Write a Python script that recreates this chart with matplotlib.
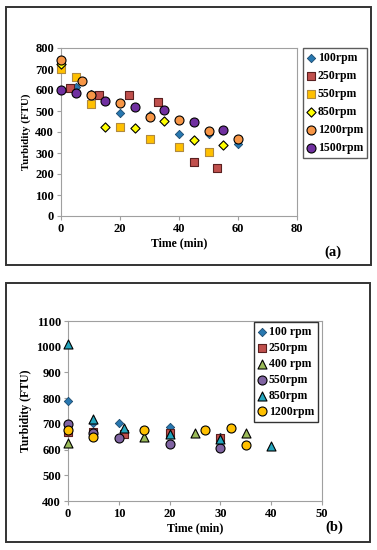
import matplotlib
matplotlib.use("Agg")
import matplotlib.pyplot as plt
from matplotlib.patches import Rectangle

plt.rcParams['font.family'] = ['Liberation Serif', 'DejaVu Serif']
plt.rcParams['font.weight'] = 'bold'

# ---- Panel (a) data ----
a_100_t = [0, 5, 10, 20, 30, 40, 50, 60]
a_100_v = [725, 615, 580, 490, 480, 390, 390, 345]
a_250_t = [3, 13, 23, 33, 45, 53]
a_250_v = [608, 575, 577, 545, 255, 230]
a_550_t = [0, 5, 10, 20, 30, 40, 50]
a_550_v = [700, 660, 533, 422, 368, 330, 305]
a_850_t = [0, 15, 25, 35, 45, 55]
a_850_v = [725, 422, 418, 452, 360, 338]
a_1200_t = [0, 7, 10, 20, 30, 40, 50, 60]
a_1200_v = [742, 642, 575, 538, 470, 458, 405, 365]
a_1500_t = [0, 5, 15, 25, 35, 45, 55]
a_1500_v = [598, 588, 548, 520, 505, 448, 410]
a_labels = ['100rpm', '250rpm', '550rpm', '850rpm', '1200rpm', '1500rpm']
a_xticks = [0, 20, 40, 60, 80]
a_yticks = [0, 100, 200, 300, 400, 500, 600, 700, 800]

# ---- Panel (b) data ----
b_100_t = [0, 5, 10, 20, 30]
b_100_v = [788, 705, 703, 688, 648]
b_250_t = [0, 5, 11, 20, 30]
b_250_v = [670, 668, 662, 665, 645]
b_400_t = [0, 15, 25, 35]
b_400_v = [625, 648, 665, 665]
b_550_t = [0, 5, 10, 20, 30]
b_550_v = [700, 665, 645, 623, 605]
b_850_t = [0, 5, 11, 20, 30, 40]
b_850_v = [1010, 720, 682, 660, 640, 612]
b_1200_t = [0, 5, 15, 27, 32, 35]
b_1200_v = [678, 650, 675, 677, 685, 618]
b_labels = ['100 rpm', '250rpm', '400 rpm', '550rpm', '850rpm', '1200rpm']
b_xticks = [0, 10, 20, 30, 40, 50]
b_yticks = [400, 500, 600, 700, 800, 900, 1000, 1100]

W, H = 377, 550
fig = plt.figure(figsize=(W / 100, H / 100), dpi=100)

def fx(px): return px / W
def fy(py): return 1 - py / H

# panel borders
for (x0, y0, x1, y1) in [(6, 7, 371, 265), (6, 283, 370, 542)]:
    fig.patches.append(Rectangle((fx(x0), fy(y1)), fx(x1) - fx(x0), fy(y0) - fy(y1),
                                 transform=fig.transFigure, fill=False,
                                 edgecolor='#333333', linewidth=1.4))

def style_axes(ax):
    for s in ['left', 'bottom', 'top', 'right']:
        ax.spines[s].set_color('#a0a0a0')
        ax.spines[s].set_linewidth(0.8)
    ax.tick_params(direction='out', length=3, width=0.8, color='#a0a0a0',
                   labelsize=9, pad=2)
    for lab in ax.get_xticklabels() + ax.get_yticklabels():
        lab.set_fontweight('bold')

kw = dict(zorder=3, clip_on=False)

# ---- axes (a) ----
ax1 = fig.add_axes([fx(61), fy(216), fx(297) - fx(61), fy(48) - fy(216)])
ek = 'black'
ax1.scatter(a_100_t, a_100_v, marker='D', s=18, color='#2878b0', edgecolors='#1a4a6e', linewidths=0.6, label=a_labels[0], **kw)
ax1.scatter(a_250_t, a_250_v, marker='s', s=40, color='#c0504d', edgecolors='#5a2020', linewidths=0.8, label=a_labels[1], **kw)
ax1.scatter(a_550_t, a_550_v, marker='s', s=40, color='#ffc000', edgecolors='#b08a40', linewidths=0.8, label=a_labels[2], **kw)
ax1.scatter(a_850_t, a_850_v, marker='D', s=22, color='#ffff00', edgecolors=ek, linewidths=0.8, label=a_labels[3], **kw)
ax1.scatter(a_1200_t, a_1200_v, marker='o', s=42, color='#f79646', edgecolors=ek, linewidths=0.8, label=a_labels[4], **kw)
ax1.scatter(a_1500_t, a_1500_v, marker='o', s=42, color='#7030a0', edgecolors=ek, linewidths=0.8, label=a_labels[5], **kw)
ax1.set_xlim(0, 80)
ax1.set_ylim(0, 800)
ax1.set_xticks(a_xticks)
ax1.set_yticks(a_yticks)
style_axes(ax1)
ax1.set_xlabel('Time (min)', fontsize=8.5, fontweight='bold', labelpad=2)
ax1.set_ylabel('Turbidity (FTU)', fontsize=7.8, fontweight='bold', labelpad=3)
leg1 = ax1.legend(loc='upper left', bbox_to_anchor=(1.025, 1.0), frameon=True, fancybox=False,
                  edgecolor='#333333', fontsize=8.5, handlelength=0.6, handletextpad=0.3,
                  borderpad=0.35, labelspacing=0.5, borderaxespad=0)
leg1.get_frame().set_linewidth(1.0)
for t in leg1.get_texts():
    t.set_fontweight('bold')
fig.text(fx(333), fy(252), '(a)', fontsize=10.5, fontweight='bold', ha='center', va='center')

# ---- axes (b) ----
ax2 = fig.add_axes([fx(68), fy(501), fx(322) - fx(68), fy(321) - fy(501)])
ax2.scatter(b_100_t, b_100_v, marker='D', s=18, color='#2878b0', edgecolors='#1a4a6e', linewidths=0.6, label=b_labels[0], **kw)
ax2.scatter(b_250_t, b_250_v, marker='s', s=40, color='#c0504d', edgecolors='#5a2020', linewidths=0.8, label=b_labels[1], **kw)
ax2.scatter(b_400_t, b_400_v, marker='^', s=42, color='#9bbb59', edgecolors=ek, linewidths=0.8, label=b_labels[2], **kw)
ax2.scatter(b_550_t, b_550_v, marker='o', s=42, color='#8064a2', edgecolors=ek, linewidths=0.8, label=b_labels[3], **kw)
ax2.scatter(b_850_t, b_850_v, marker='^', s=42, color='#23a5bd', edgecolors=ek, linewidths=0.8, label=b_labels[4], **kw)
ax2.scatter(b_1200_t, b_1200_v, marker='o', s=42, color='#ffc000', edgecolors=ek, linewidths=0.8, label=b_labels[5], **kw)
ax2.set_xlim(0, 50)
ax2.set_ylim(400, 1100)
ax2.set_xticks(b_xticks)
ax2.set_yticks(b_yticks)
style_axes(ax2)
ax2.set_xlabel('Time (min)', fontsize=8.5, fontweight='bold', labelpad=2)
ax2.set_ylabel('Turbidity (FTU)', fontsize=8.5, fontweight='bold', labelpad=3)
leg2 = ax2.legend(loc='upper right', bbox_to_anchor=(0.985, 0.995), frameon=True, fancybox=False,
                  edgecolor='#333333', fontsize=8.5, handlelength=0.6, handletextpad=0.3,
                  borderpad=0.35, labelspacing=0.33, borderaxespad=0, framealpha=1)
leg2.get_frame().set_linewidth(1.0)
for t in leg2.get_texts():
    t.set_fontweight('bold')
fig.text(fx(334), fy(527), '(b)', fontsize=10.5, fontweight='bold', ha='center', va='center')

fig.savefig('out.png', dpi=100)
